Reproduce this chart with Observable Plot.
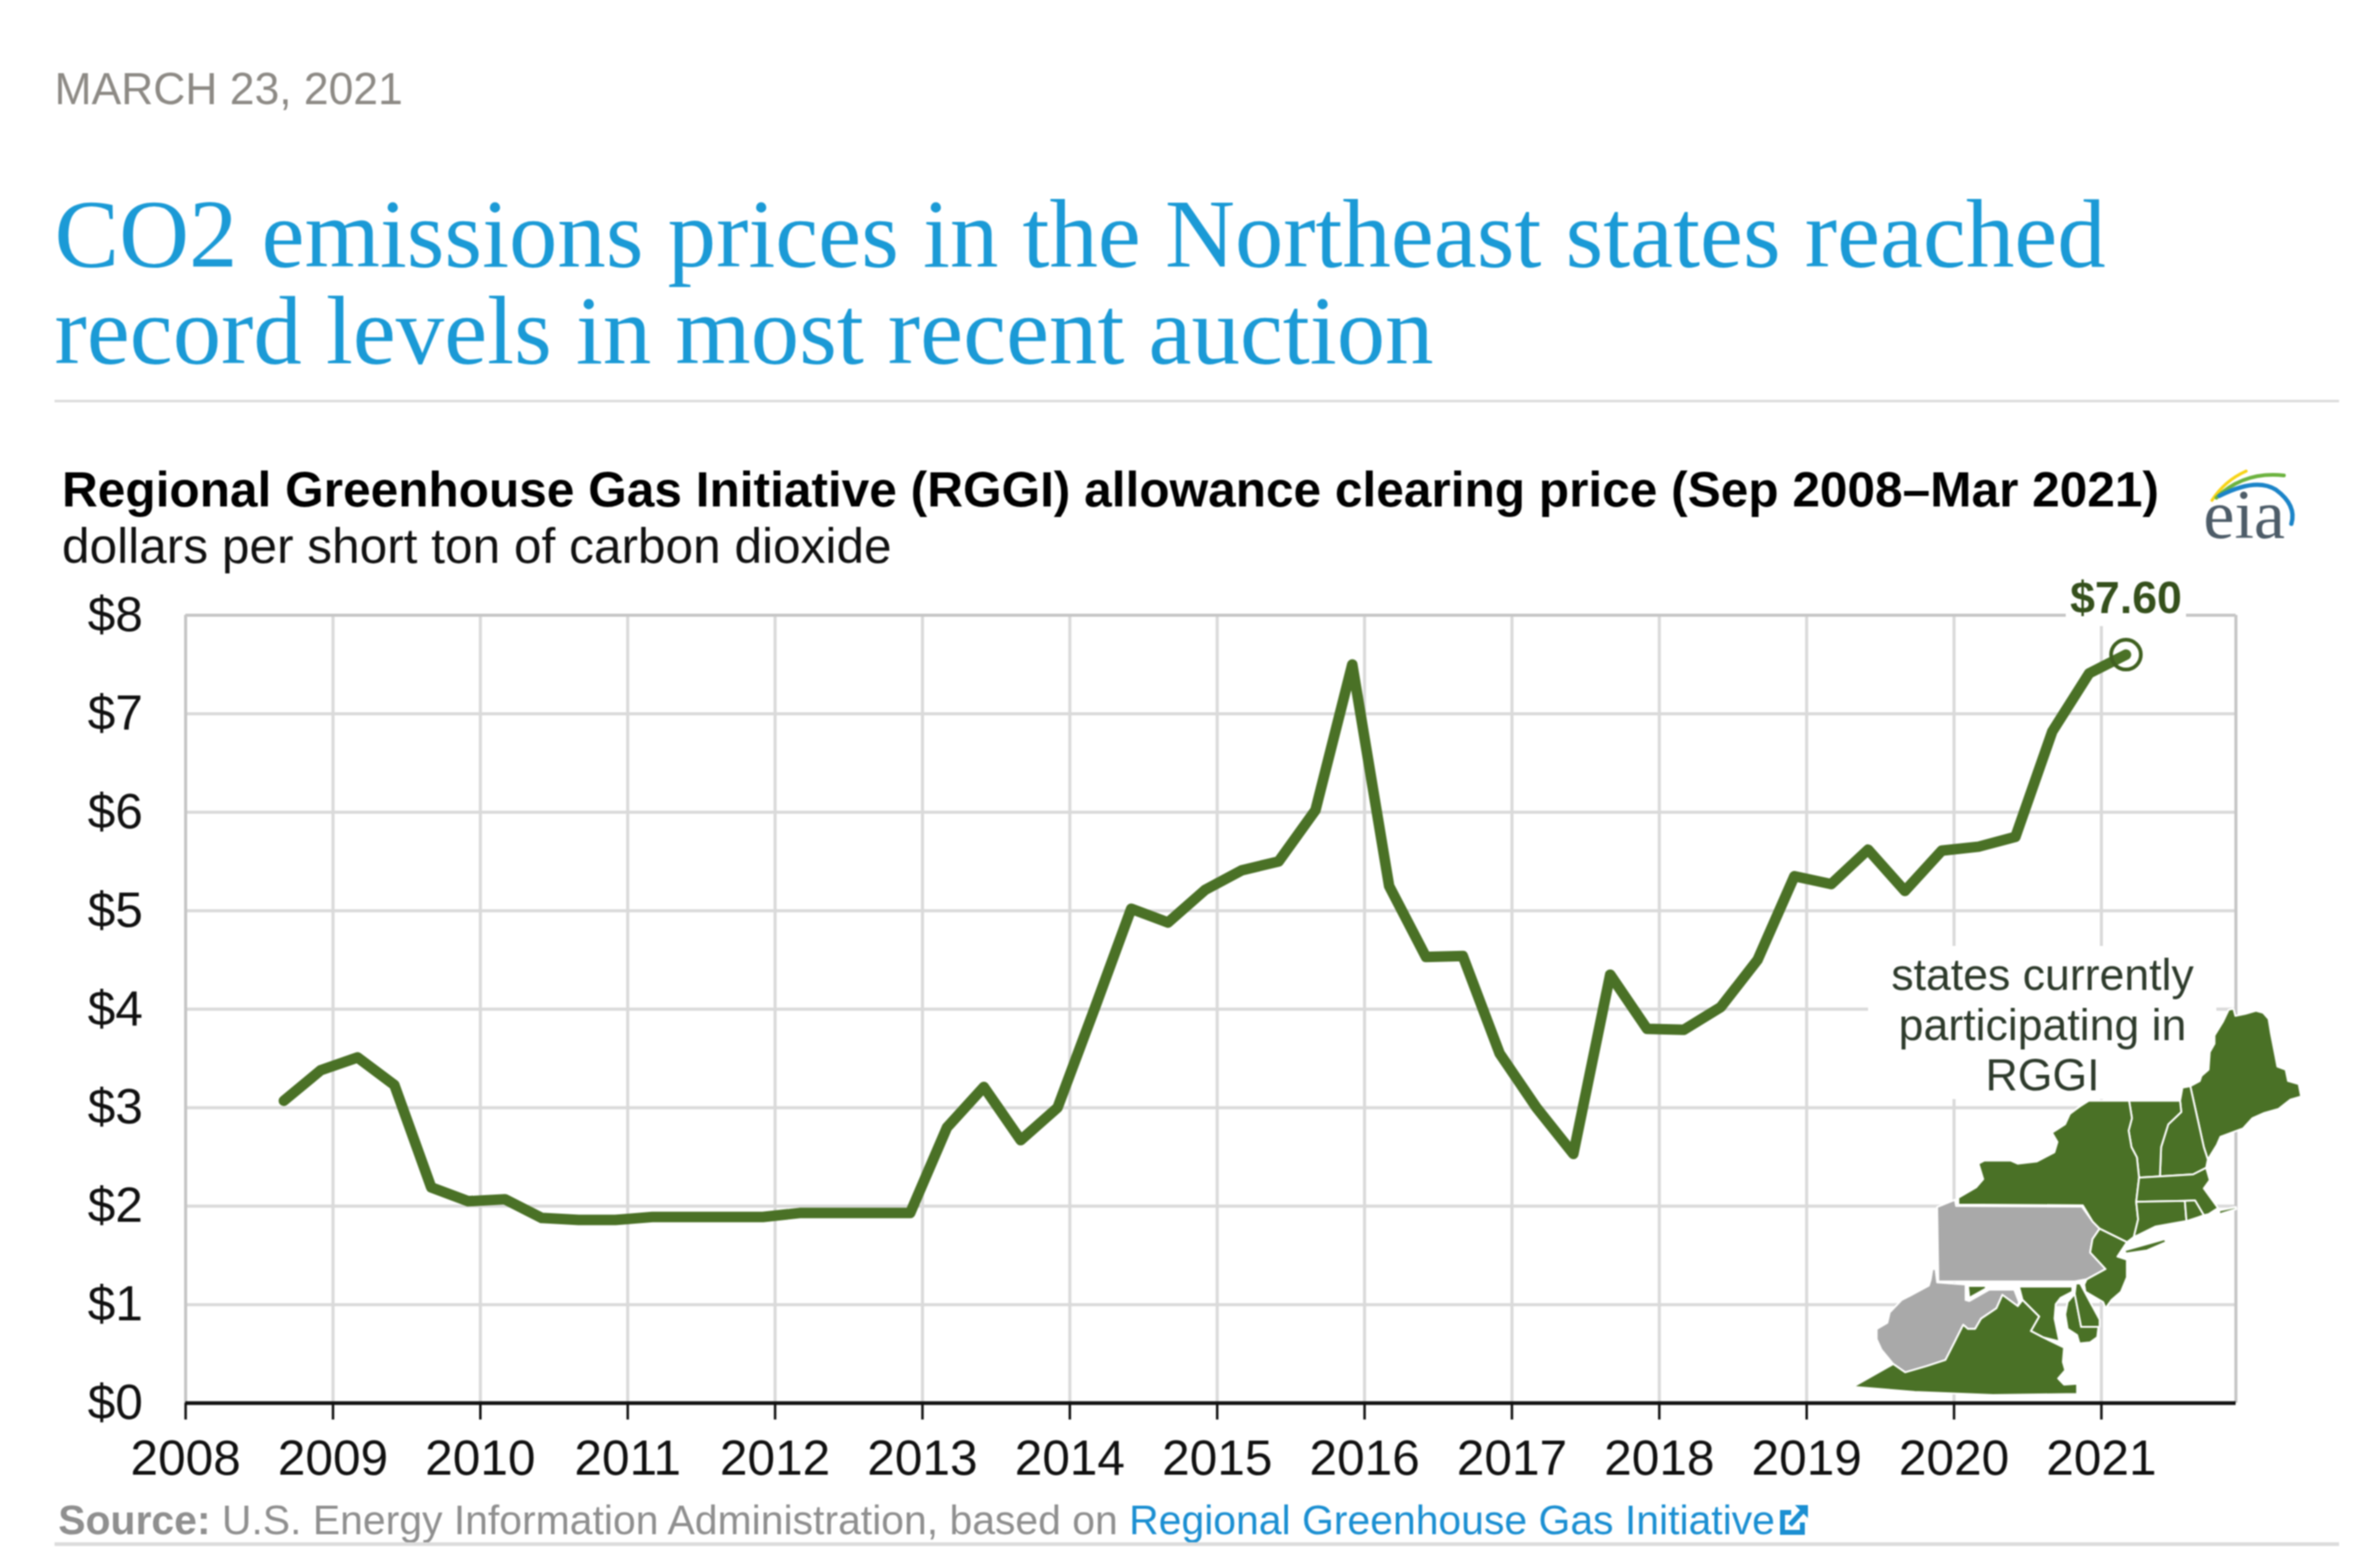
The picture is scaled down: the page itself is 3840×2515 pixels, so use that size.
<!DOCTYPE html>
<html>
<head>
<meta charset="utf-8">
<script src="https://cdn.jsdelivr.net/npm/d3@7"></script>
<script src="https://cdn.jsdelivr.net/npm/@observablehq/plot@0.6"></script>
<style>
html,body{margin:0;padding:0;background:#fff;overflow:hidden}
#page{position:relative;width:3840px;height:2515px;background:#fff;overflow:hidden;filter:blur(1.2px)}
.t{position:absolute;white-space:nowrap;line-height:1;font-family:"Liberation Sans",Arial,sans-serif}
.t a{color:inherit;text-decoration:none}
.r{position:absolute;background:#dcdcdc}
</style>
</head>
<body>
<div id="page"></div>
<script>
// ---- chart data ----
const dateline = "MARCH 23, 2021";
const titleLines = ["CO2 emissions prices in the Northeast states reached", "record levels in most recent auction"];
const chartTitle = "Regional Greenhouse Gas Initiative (RGGI) allowance clearing price (Sep 2008\u2013Mar 2021)";
const chartUnits = "dollars per short ton of carbon dioxide";
const auctionDates = [
 "2008-09","2008-12",
 "2009-03","2009-06","2009-09","2009-12",
 "2010-03","2010-06","2010-09","2010-12",
 "2011-03","2011-06","2011-09","2011-12",
 "2012-03","2012-06","2012-09","2012-12",
 "2013-03","2013-06","2013-09","2013-12",
 "2014-03","2014-06","2014-09","2014-12",
 "2015-03","2015-06","2015-09","2015-12",
 "2016-03","2016-06","2016-09","2016-12",
 "2017-03","2017-06","2017-09","2017-12",
 "2018-03","2018-06","2018-09","2018-12",
 "2019-03","2019-06","2019-09","2019-12",
 "2020-03","2020-06","2020-09","2020-12",
 "2021-03"];
const clearingPrices = [
 3.07,3.38,
 3.51,3.23,2.19,2.05,
 2.07,1.88,1.86,1.86,
 1.89,1.89,1.89,1.89,
 1.93,1.93,1.93,1.93,
 2.80,3.21,2.67,3.00,
 4.00,5.02,4.88,5.21,
 5.41,5.50,6.02,7.50,
 5.25,4.53,4.54,3.55,
 3.00,2.53,4.35,3.80,
 3.79,4.02,4.50,5.35,
 5.27,5.62,5.20,5.61,
 5.65,5.75,6.82,7.41,
 7.60];
const yearTicks = [2008,2009,2010,2011,2012,2013,2014,2015,2016,2017,2018,2019,2020,2021];
const priceTicks = [0,1,2,3,4,5,6,7,8];
const mapCaption = ["states currently","participating in","RGGI"];

// State outlines, in two tracing grids.
const maine = [[1028,395],[1068,370],[1075,345],[1105,315],[1110,230],[1130,190],[1130,150],[1165,85],[1190,25],[1210,20],[1218,55],[1260,45],[1305,30],[1335,40],[1358,70],[1368,140],[1385,240],[1395,300],[1430,315],[1440,370],[1485,385],[1495,445],[1450,460],[1400,505],[1340,525],[1290,550],[1250,600],[1190,625],[1155,640],[1140,680],[1102,750],[1085,690],[1060,560]];
const newHampshire = [[995,402],[1028,395],[1060,560],[1085,690],[1102,750],[1095,790],[1040,822],[900,832],[905,690],[935,580],[990,520],[985,466]];
const vermont = [[770,466],[985,466],[990,520],[935,580],[905,690],[900,832],[812,838],[803,740],[780,690],[768,610],[782,550]];
const newYork = [[600,466],[770,466],[782,550],[768,610],[780,690],[803,740],[812,838],[800,955],[808,1040],[790,1125],[761,1150],[646,1085],[616,1050],[575,972],[50,968],[50,935],[125,885],[155,845],[135,770],[160,755],[270,755],[300,770],[380,760],[455,715],[468,665],[445,620],[500,580],[520,530],[560,495]];
const massachusetts = [[812,838],[900,832],[1040,822],[1095,790],[1110,850],[1085,890],[1145,985],[1105,1015],[1085,1020],[1048,948],[1005,950],[800,955]];
const capeIslands = [[1150,997],[1220,980],[1222,990],[1150,1015]];
const connecticut = [[800,955],[1005,950],[1012,1048],[880,1075],[810,1115],[790,1125],[808,1040]];
const rhodeIsland = [[1005,950],[1048,948],[1085,1020],[1060,1030],[1012,1048]];
const longIsland = [[1195,290],[1365,235],[1370,250],[1290,290],[1200,305]];
const newJersey = [[1090,185],[1205,250],[1165,320],[1205,335],[1205,420],[1180,490],[1140,530],[1115,570],[1105,540],[1030,490],[1025,455],[1035,430],[1115,380],[1050,300],[1060,235]];
const marylandWest = [[535,462],[610,462],[610,475],[540,520]];
const marylandMain = [[750,465],[975,465],[975,490],[925,520],[905,550],[900,620],[920,730],[850,710],[800,680],[835,610],[765,530]];
const marylandEast = [[985,500],[1012,660],[1085,660],[1080,710],[1050,735],[1005,740],[995,700],[955,670],[945,600],[955,540]];
const delaware = [[990,450],[1008,450],[1045,530],[1090,625],[1090,660],[1012,660],[985,500]];
const virginia = [[50,950],[220,840],[270,880],[360,850],[440,820],[480,730],[515,650],[535,670],[565,670],[590,620],[655,570],[680,505],[745,560],[765,530],[835,610],[800,680],[850,710],[940,760],[935,830],[945,870],[915,910],[940,940],[995,935],[995,985],[640,990],[310,975]];
const pennsylvania = [[405,80],[480,45],[485,75],[1015,78],[1060,150],[1090,185],[1060,235],[1050,300],[1115,380],[1035,430],[985,440],[410,440]];
const westVirginia = [[385,380],[398,380],[405,445],[525,455],[525,530],[540,535],[625,480],[670,480],[730,480],[750,540],[745,560],[680,505],[655,570],[590,620],[565,670],[535,670],[515,650],[480,730],[440,820],[360,850],[270,880],[220,840],[170,770],[150,720],[150,670],[195,640],[205,590],[255,530],[290,510],[370,460],[378,430]];

const rggiNorthGrid = {maine, newHampshire, vermont, newYork, massachusetts, capeIslands, connecticut, rhodeIsland};
const rggiSouthGrid = {longIsland, newJersey, marylandWest, marylandMain, marylandEast, delaware, virginia};
const otherSouthGrid = {pennsylvania, westVirginia};

// ---- drawing ----
const GREEN = "#4a7126", GREY = "#a9a9a9", GRID = "#dadada", EDGE = "#c6c6c6";
const X0 = 299, X1 = 3607, Y0 = 2263, Y1 = 992, SVG_TOP = 940, SVG_H = 1480;
const pxPerYear = 237.77, pxPerDollar = (Y0 - Y1) / 8;
const toYear = fx => 2008 + (fx - X0) / pxPerYear;
const toDollar = fy => (Y0 - fy) / pxPerDollar;
const northPt = ([a,b]) => [toYear(3140 + a / 2.613), toDollar(1620 + b / 3)];
const southPt = ([a,b]) => [toYear(2970 + a / 2.613), toDollar(1920 + b / 3)];
const rows = (grid, conv) => Object.entries(grid).flatMap(([part, pts]) => pts.map(p => { const [x,y] = conv(p); return {part, x, y}; }));
const greenRows = [...rows(rggiNorthGrid, northPt), ...rows(rggiSouthGrid, southPt)];
const greyRows = rows(otherSouthGrid, southPt);

const auctions = auctionDates.map((d,i) => {
  const [yy,mm] = d.split("-").map(Number);
  return {x: yy + (mm - 1) / 12, price: clearingPrices[i]};
});
const latest = auctions[auctions.length - 1];

const chart = Plot.plot({
  width: 3840, height: SVG_H,
  marginLeft: X0, marginRight: 3840 - X1, marginTop: Y1 - SVG_TOP, marginBottom: SVG_TOP + SVG_H - Y0,
  x: {type: "linear", domain: [2008, toYear(X1)]},
  y: {type: "linear", domain: [0, 8]},
  style: {position: "absolute", left: "0", top: SVG_TOP + "px", overflow: "visible", fontFamily: '"Liberation Sans",Arial,sans-serif', background: "none"},
  marks: [
    Plot.ruleY(priceTicks.filter(d => d > 0 && d < 8), {y: d => d, stroke: GRID, strokeWidth: 5}),
    Plot.ruleX(yearTicks.filter(d => d > 2008), {x: d => d, stroke: GRID, strokeWidth: 5}),
    Plot.ruleY([8], {y: d => d, stroke: EDGE, strokeWidth: 5}),
    Plot.ruleX([2008, toYear(X1)], {x: d => d, stroke: EDGE, strokeWidth: 5}),
    Plot.axisY({ticks: priceTicks, tickFormat: d => "$" + d, tickSize: 0, tickPadding: 69, fontSize: 80, label: null, fill: "#111"}),
    Plot.axisX({ticks: yearTicks, tickFormat: d => String(d), tickSize: 27, tickPadding: 32, fontSize: 80, label: null, strokeWidth: 4, stroke: "#111", fill: "#111"}),
    Plot.ruleY([0], {y: d => d, stroke: "#111", strokeWidth: 6}),
    Plot.rect([0], {x1: toYear(3014), x2: toYear(3576), y1: toDollar(1773), y2: toDollar(1526), fill: "white"}),
    Plot.rect([0], {x1: toYear(3333), x2: toYear(3527), y1: toDollar(1010), y2: toDollar(975), fill: "white"}),
    Plot.line(greyRows, {x: "x", y: "y", z: "part", fill: GREY, stroke: "white", strokeWidth: 3, curve: "linear-closed"}),
    Plot.line(greenRows, {x: "x", y: "y", z: "part", fill: GREEN, stroke: "white", strokeWidth: 3, curve: "linear-closed"}),
    Plot.text(mapCaption, {x: () => toYear(3295), y: (d,i) => toDollar(1573 + i * 81), text: d => d, fontSize: 72, fill: "#2e3b2c", textAnchor: "middle"}),
    Plot.line(auctions, {x: "x", y: "price", stroke: GREEN, strokeWidth: 17, strokeLinecap: "round", strokeLinejoin: "round"}),
    Plot.dot([latest], {x: "x", y: "price", r: 24, fill: "none", stroke: "#3f6020", strokeWidth: 6}),
    Plot.text([latest], {x: "x", y: "price", dy: -90, text: d => "$" + d.price.toFixed(2), fontSize: 72, fontWeight: "bold", fill: "#35501c", textAnchor: "middle"})
  ]
});
const page = document.getElementById("page");
page.appendChild(chart);

function put(html, x, base, size, opts = {}) {
  const el = document.createElement("div");
  el.className = "t";
  el.innerHTML = html;
  const serif = opts.serif;
  el.style.left = x + "px";
  el.style.top = (base - size * (serif ? 0.8375 : 0.8465)) + "px";
  el.style.fontSize = size + "px";
  if (serif) el.style.fontFamily = '"Liberation Serif","Times New Roman",serif';
  if (opts.color) el.style.color = opts.color;
  if (opts.weight) el.style.fontWeight = opts.weight;
  page.appendChild(el);
}
function rule(y, h, color) {
  const el = document.createElement("div");
  el.className = "r";
  el.style.cssText = `left:88px;width:3686px;top:${y}px;height:${h}px;background:${color}`;
  page.appendChild(el);
}
put(dateline, 88, 169, 71.7, {color: "#8d8a85"});
put(titleLines[0], 88, 431, 156.2, {serif: true, color: "#1b9ad6"});
put(titleLines[1], 88, 587, 156.2, {serif: true, color: "#1b9ad6"});
rule(645, 4, "#dcdcdc");
put(chartTitle, 100, 818, 80, {weight: "bold", color: "#000"});
put(chartUnits, 100, 909, 80, {color: "#111"});
put('<b>Source:</b> U.S. Energy Information Administration, based on <a href="#" style="color:#1b8fd2">Regional Greenhouse Gas Initiative</a>', 94, 2475, 66, {color: "#8f8f8f"});
rule(2488, 6, "#dcdcdc");

// external-link glyph and agency logo (decoration, not chart data)
const deco = document.createElement("div");
deco.innerHTML = `<svg xmlns="http://www.w3.org/2000/svg" width="3840" height="2515" style="position:absolute;left:0;top:0;pointer-events:none">
 <g fill="none" stroke="#1b8fd2" stroke-width="8"><path d="M2890 2440H2876V2472H2908V2456"/><path d="M2888 2460L2908 2438"/></g>
 <path d="M2896 2428H2917V2449Z" fill="#1b8fd2"/>
 <g fill="none" stroke-linecap="round">
  <path d="M3569 807Q3590 775 3624 760" stroke="#f7d417" stroke-width="5"/>
  <path d="M3576 803Q3620 760 3685 767" stroke="#6cb33f" stroke-width="6"/>
  <path d="M3581 800Q3640 770 3672 790Q3706 815 3697 845" stroke="#1b84c8" stroke-width="7"/>
 </g>
 <text x="3555" y="868" font-family="Liberation Serif" font-size="113" fill="#4d5c68">eia</text>
</svg>`;
page.appendChild(deco);
</script>
</body>
</html>
